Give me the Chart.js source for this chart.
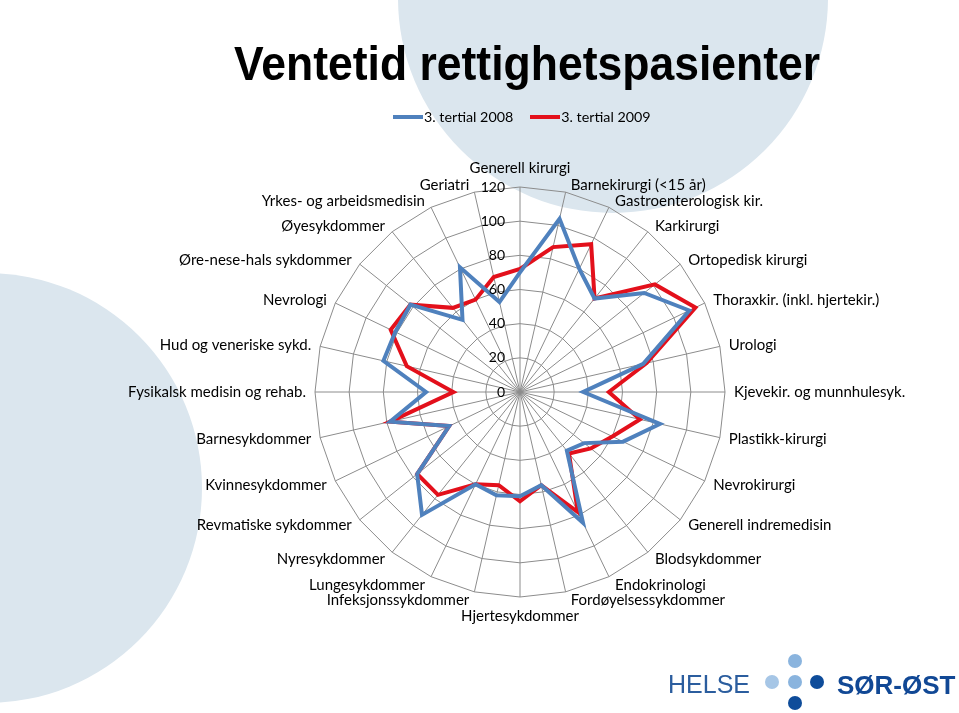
<!DOCTYPE html>
<html lang="no">
<head>
    <meta charset="UTF-8">
    <title>Ventetid rettighetspasienter</title>
    <style>
        body {
            margin: 0;
            width: 959px;
            height: 713px;
            overflow: hidden;
            position: relative;
            background: #fff;
            font-family: Lato, "Open Sans", sans-serif;
        }
        .blob {
            position: absolute;
            width: 430px;
            height: 430px;
            border-radius: 50%;
            background: #dbe6ee;
        }
        .blob.top { left: 398px; top: -217px; }
        .blob.left { left: -228px; top: 273px; }
        #chart {
            position: absolute;
            left: 0;
            top: 0;
        }
        #title {
            position: absolute;
            left: 234px;
            top: 43px;
            margin: 0;
            font: bold 44.5px "Liberation Sans", Arial, sans-serif;
            line-height: 44px;
            white-space: nowrap;
            transform: scaleY(1.1);
            transform-origin: 0 37px;
        }
        #legend {
            position: absolute;
            left: 393px;
            top: 108px;
            display: flex;
            gap: 17px;
            font-size: 14.3px;
            line-height: 18px;
        }
        .legend-item { display: flex; align-items: center; }
        .legend-item span.line {
            display: inline-block;
            width: 30px;
            height: 3.5px;
            margin-right: 1px;
        }
        .logo div { position: absolute; }
        .logo .dot { width: 14px; height: 14px; border-radius: 50%; }
        .logo .helse {
            left: 668px; top: 670px;
            font: 25px "Liberation Sans", Arial, sans-serif;
            color: #2b5d9e;
        }
        .logo .sorost {
            left: 837px; top: 670px;
            font: bold 26px "Liberation Sans", Arial, sans-serif;
            color: #114895;
        }
    </style>
</head>
<body>
    <div class="blob top"></div>
    <div class="blob left"></div>
    <canvas id="chart" width="959" height="713"></canvas>
    <h1 id="title">Ventetid rettighetspasienter</h1>
    <div id="legend"></div>
    <div class="logo">
        <div class="helse">HELSE</div>
        <div class="dot" style="left:788px;top:654px;background:#8ab4de"></div>
        <div class="dot" style="left:765px;top:675px;background:#a6c6e6"></div>
        <div class="dot" style="left:788px;top:675px;background:#8ab4de"></div>
        <div class="dot" style="left:810px;top:675px;background:#0e4c9a"></div>
        <div class="dot" style="left:788px;top:696px;background:#0e4c9a"></div>
        <div class="sorost">SØR-ØST</div>
    </div>

    <script src="https://cdn.jsdelivr.net/npm/chart.js"></script>
    <script>
        const categories = [
            'Generell kirurgi', 'Barnekirurgi (<15 år)', 'Gastroenterologisk kir.', 'Karkirurgi',
            'Ortopedisk kirurgi', 'Thoraxkir. (inkl. hjertekir.)', 'Urologi', 'Kjevekir. og munnhulesyk.',
            'Plastikk-kirurgi', 'Nevrokirurgi', 'Generell indremedisin', 'Blodsykdommer',
            'Endokrinologi', 'Fordøyelsessykdommer', 'Hjertesykdommer', 'Infeksjonssykdommer',
            'Lungesykdommer', 'Nyresykdommer', 'Revmatiske sykdommer', 'Kvinnesykdommer',
            'Barnesykdommer', 'Fysikalsk medisin og rehab.', 'Hud og veneriske sykd.', 'Nevrologi',
            'Øre-nese-hals sykdommer', 'Øyesykdommer', 'Yrkes- og arbeidsmedisin', 'Geriatri'
        ];
        const tertial2008 = [70, 104, 80, 70, 93, 110, 74, 37, 84, 67, 48, 44, 85, 56,
                             61, 62, 60, 92, 77, 46, 78, 55, 82, 81, 82, 54, 81, 54];
        const tertial2009 = [72, 87, 96, 70, 101, 114, 76, 52, 72, 60, 53, 46, 78, 56,
                             64, 56, 60, 77, 77, 46, 78, 39, 68, 84, 82, 63, 60, 69];
        const seriesNames = ['3. tertial 2008', '3. tertial 2009'];
        const seriesColors = ['#4f81bd', '#e3101b'];
        const radialTicks = [0, 20, 40, 60, 80, 100, 120];

        // legend i HTML, bygget fra seriene
        const legend = document.getElementById('legend');
        seriesNames.forEach((name, i) => {
            const item = document.createElement('div');
            item.className = 'legend-item';
            const line = document.createElement('span');
            line.className = 'line';
            line.style.background = seriesColors[i];
            item.appendChild(line);
            item.appendChild(document.createTextNode(name));
            legend.appendChild(item);
        });

        // tekst rundt diagrammet plassert omtrent som i Excel
        const excelLabels = {
            id: 'excelLabels',
            afterDraw(chart) {
                const r = chart.scales.r;
                const ctx = chart.ctx;
                ctx.save();
                ctx.fillStyle = '#000';
                ctx.textBaseline = 'middle';

                ctx.font = '14px Lato';
                ctx.textAlign = 'right';
                r.ticks.forEach(t => {
                    const d = r.getDistanceFromCenterForValue(t.value);
                    ctx.fillText(t.label, r.xCenter - 15, r.yCenter - d);
                });

                ctx.font = '15px Lato';
                chart.data.labels.forEach((label, i) => {
                    const a = r.getIndexAngle(i);
                    const s = Math.sin(a), c = Math.cos(a);
                    const tip = r.getPointPosition(i, r.drawingArea);
                    if (Math.abs(s) < 0.01) {
                        ctx.textAlign = 'center';
                        ctx.fillText(label, tip.x, tip.y - c * 19);
                    } else {
                        ctx.textAlign = s > 0 ? 'left' : 'right';
                        const off = 4 + 5 * Math.abs(s);
                        ctx.fillText(label, tip.x + Math.sign(s) * off, tip.y - c * (c > 0 ? 7 : 9));
                    }
                });
                ctx.restore();
            }
        };

        const ctx = document.getElementById('chart').getContext('2d');
        new Chart(ctx, {
            type: 'radar',
            data: {
                labels: categories,
                datasets: [tertial2008, tertial2009].map((values, i) => ({
                    label: seriesNames[i],
                    data: values,
                    borderColor: seriesColors[i],
                    borderWidth: 4,
                    pointRadius: 0,
                    fill: false
                }))
            },
            options: {
                responsive: false,
                animation: false,
                layout: { padding: { left: 315, right: 234, top: 187, bottom: 116 } },
                plugins: { legend: { display: false }, title: { display: false }, tooltip: { enabled: false } },
                scales: {
                    r: {
                        min: radialTicks[0],
                        max: radialTicks[radialTicks.length - 1],
                        ticks: { stepSize: radialTicks[1] - radialTicks[0], display: false },
                        grid: { color: '#8c8c8c', lineWidth: 1 },
                        angleLines: { color: '#8c8c8c', lineWidth: 1 },
                        pointLabels: { display: false }
                    }
                }
            },
            plugins: [excelLabels]
        });
    </script>
</body>
</html>
